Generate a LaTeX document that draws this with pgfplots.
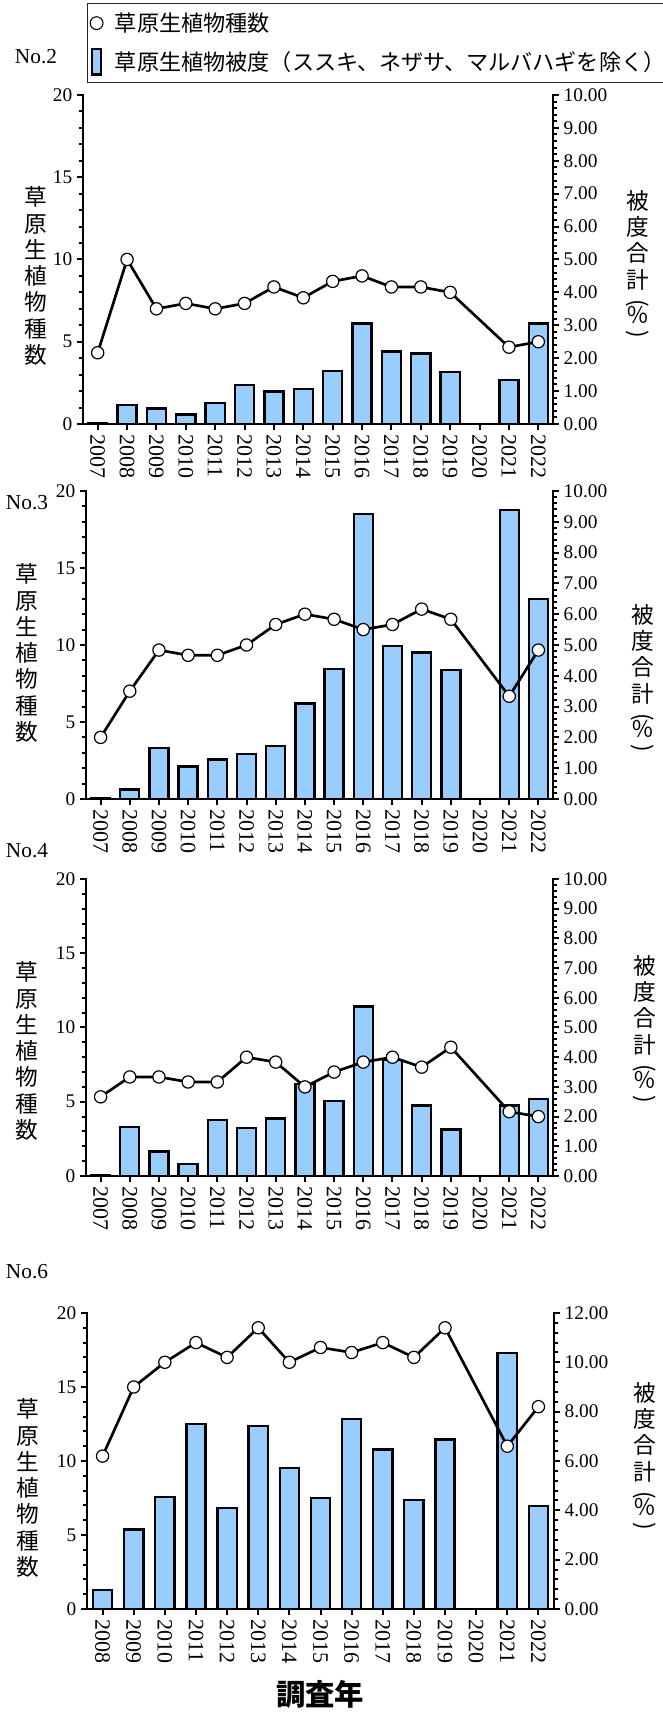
\documentclass[border=0pt]{standalone}
\usepackage{pgfplots}
\pgfplotsset{compat=1.18}
\usepackage{fontspec}
\usepackage{graphicx}
\setmainfont{Liberation Serif}
\newfontfamily\cjk{Noto Sans CJK JP}
\definecolor{barblue}{RGB}{153,204,255}

\pgfplotsset{
  base/.style={scale only axis, anchor=south west, clip=false,
    axis line style={-, line width=1.8pt, line cap=rect},
    tick style={black, line width=1.5pt},
    major tick length=4.5pt, minor tick length=2.8pt,
    /pgf/number format/assume math mode=true,
    yticklabel style={font=\fontsize{14.5}{15}\selectfont},
    xticklabel style={font=\fontsize{16.5}{16.5}\selectfont, rotate=-90, anchor=west},
  },
  leftax/.style={base, axis x line*=bottom, axis y line*=left,
    ymin=0, ymax=20, ytick={0,5,10,15,20}, minor y tick num=4,
    tick align=outside,
  },
  rightax/.style={base, axis x line=none, axis y line*=right,
    ymin=0, minor y tick num=4, tick align=outside,
    yticklabel style={/pgf/number format/.cd, fixed, fixed zerofill, precision=2},
  },
  lineplot/.style={black, line width=2pt, mark=*, mark size=4.6pt,
    mark options={fill=white, draw=black, line width=0.9pt}},
  barplot/.style={ybar, fill=barblue, draw=black, line width=1.8pt},
}
\begin{document}
\begin{tikzpicture}
\path[use as bounding box] (0pt,0pt) rectangle (496.5pt,1286.25pt);

% ---------------- Panel No.2 ----------------
\begin{axis}[rightax, at={(62.25pt,968.25pt)}, width=352.5pt, height=246.75pt,
  xmin=-0.5, xmax=15.5, ymax=10, ytick={0,1,...,10}]
\addplot[barplot, bar width=0.65] coordinates {(0,0.03) (1,0.57) (2,0.47) (3,0.29) (4,0.63) (5,1.18) (6,0.99) (7,1.06) (8,1.61) (9,3.05) (10,2.2) (11,2.14) (12,1.58) (14,1.34) (15,3.05)};
\end{axis}
\begin{axis}[leftax, at={(62.25pt,968.25pt)}, width=352.5pt, height=246.75pt,
  xmin=-0.5, xmax=15.5, xtick={0,...,15},
  xticklabels={2007,2008,2009,2010,2011,2012,2013,2014,2015,2016,2017,2018,2019,2020,2021,2022},
  legend style={at={(axis description cs:0.0085,1.2796)}, anchor=north west,
    draw=black!85, line width=0.8pt, font=\cjk\fontsize{16.6}{19}\selectfont,
    row sep=9pt, inner xsep=2pt, inner ysep=5pt,
    /tikz/every odd column/.append style={column sep=7pt}},
  legend cell align=left]
\addlegendimage{only marks, mark=*, mark size=4.8pt, mark options={fill=white, draw=black, line width=0.8pt}}
\addlegendentry{草原生植物種数}
\addlegendimage{legend image code/.code={\draw[fill=barblue, draw=black, line width=1.6pt] (0.3cm-3.3pt,-9.5pt) rectangle (0.3cm+3.3pt,9.5pt);}}
\addlegendentry{草原生植物被度（ススキ、ネザサ、マルバハギを除く）}
\addplot[lineplot, forget plot] coordinates {(0,4.33) (1,10) (2,7) (3,7.33) (4,7) (5,7.33) (6,8.33) (7,7.67) (8,8.67) (9,9) (10,8.33) (11,8.33) (12,8) (14,4.67) (15,5)};
\end{axis}

% ---------------- Panel No.3 ----------------
\begin{axis}[rightax, at={(64.5pt,687pt)}, width=350.25pt, height=231pt,
  xmin=-0.5, xmax=15.5, ymax=10, ytick={0,1,...,10}]
\addplot[barplot, bar width=0.65] coordinates {(0,0.02) (1,0.31) (2,1.66) (3,1.05) (4,1.28) (5,1.46) (6,1.72) (7,3.1) (8,4.22) (9,9.25) (10,4.96) (11,4.75) (12,4.19) (14,9.38) (15,6.49)};
\end{axis}
\begin{axis}[leftax, at={(64.5pt,687pt)}, width=350.25pt, height=231pt,
  xmin=-0.5, xmax=15.5, xtick={0,...,15},
  xticklabels={2007,2008,2009,2010,2011,2012,2013,2014,2015,2016,2017,2018,2019,2020,2021,2022}]
\addplot[lineplot] coordinates {(0,4) (1,7) (2,9.67) (3,9.33) (4,9.33) (5,10) (6,11.33) (7,12) (8,11.67) (9,11) (10,11.33) (11,12.33) (12,11.67) (14,6.67) (15,9.67)};
\end{axis}

% ---------------- Panel No.4 ----------------
\begin{axis}[rightax, at={(64.5pt,404.25pt)}, width=350.25pt, height=222.75pt,
  xmin=-0.5, xmax=15.5, ymax=10, ytick={0,1,...,10}]
\addplot[barplot, bar width=0.65] coordinates {(0,0.02) (1,1.64) (2,0.83) (3,0.4) (4,1.89) (5,1.62) (6,1.94) (7,3.09) (8,2.53) (9,5.7) (10,3.9) (11,2.38) (12,1.57) (14,2.37) (15,2.6)};
\end{axis}
\begin{axis}[leftax, at={(64.5pt,404.25pt)}, width=350.25pt, height=222.75pt,
  xmin=-0.5, xmax=15.5, xtick={0,...,15},
  xticklabels={2007,2008,2009,2010,2011,2012,2013,2014,2015,2016,2017,2018,2019,2020,2021,2022}]
\addplot[lineplot] coordinates {(0,5.33) (1,6.67) (2,6.67) (3,6.33) (4,6.33) (5,8) (6,7.67) (7,6) (8,7) (9,7.67) (10,8) (11,7.33) (12,8.67) (14,4.33) (15,4)};
\end{axis}

% ---------------- Panel No.6 ----------------
\begin{axis}[rightax, at={(65.25pt,79.5pt)}, width=350.25pt, height=222pt,
  xmin=-0.5, xmax=14.5, ymax=12, ytick={0,2,...,12}]
\addplot[barplot, bar width=0.62] coordinates {(0,0.78) (1,3.22) (2,4.55) (3,7.51) (4,4.09) (5,7.43) (6,5.71) (7,4.51) (8,7.70) (9,6.47) (10,4.41) (11,6.87) (13,10.39) (14,4.17)};
\end{axis}
\begin{axis}[leftax, at={(65.25pt,79.5pt)}, width=350.25pt, height=222pt,
  xmin=-0.5, xmax=14.5, xtick={0,...,14},
  xticklabels={2008,2009,2010,2011,2012,2013,2014,2015,2016,2017,2018,2019,2020,2021,2022}]
\addplot[lineplot] coordinates {(0,10.33) (1,15) (2,16.67) (3,18) (4,17) (5,19) (6,16.67) (7,17.67) (8,17.33) (9,18) (10,17) (11,19) (13,11) (14,13.67)};
\end{axis}

% ---------------- labels ----------------
\tikzset{lab/.style={font=\fontsize{16}{16}\selectfont, inner sep=0pt},
  vlab/.style={align=center, inner sep=0pt, font=\cjk\fontsize{17}{19.7}\selectfont}}
\node[lab] at (27pt,1243.5pt) {No.2};
\node[lab] at (20.25pt,909pt) {No.3};
\node[lab] at (20.25pt,648pt) {No.4};
\node[lab] at (20.25pt,332.25pt) {No.6};

\node[vlab] at (27pt,1079.25pt) {草\\原\\生\\植\\物\\種\\数};
\node[vlab] at (20.25pt,796.5pt) {草\\原\\生\\植\\物\\種\\数};
\node[vlab] at (20.25pt,498pt) {草\\原\\生\\植\\物\\種\\数};
\node[vlab] at (21pt,170.25pt) {草\\原\\生\\植\\物\\種\\数};

\def\rlab{被\\度\\合\\計\\[-3pt]\rotatebox[origin=c]{-90}{(}\\[-10pt]％\\[-6pt]\rotatebox[origin=c]{-90}{)}}
\node[vlab] at (478.5pt,1086.75pt) {\rlab};
\node[vlab] at (482.25pt,776.25pt) {\rlab};
\node[vlab] at (483.75pt,513pt) {\rlab};
\node[vlab] at (483.75pt,192.75pt) {\rlab};

\node[font=\cjk\bfseries\fontsize{22}{22}\selectfont, inner sep=0pt] at (240pt,15.75pt) {調査年};
\end{tikzpicture}
\end{document}
